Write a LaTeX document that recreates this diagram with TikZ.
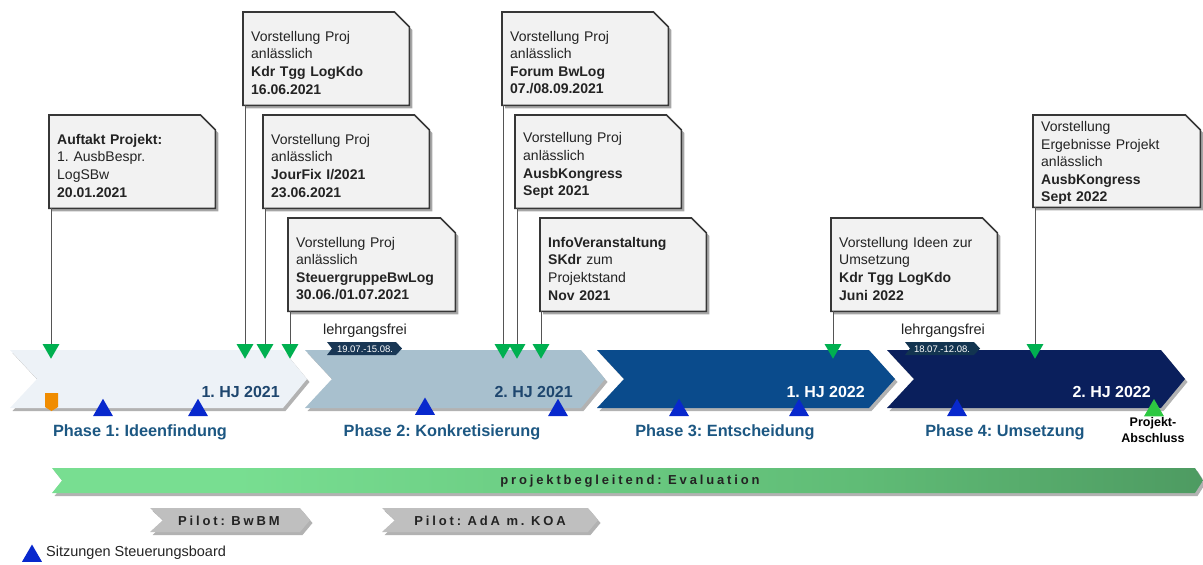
\documentclass[tikz,border=0pt]{standalone}
\usepackage{fontspec}
\setmainfont{Liberation Sans}
\newfontfamily\trackedfont[LetterSpace=22]{Liberation Sans}
\usetikzlibrary{shapes.geometric,shadows,backgrounds,calc}
\frenchspacing

% palette
\definecolor{calloutFill}{RGB}{242,242,242}
\definecolor{calloutLine}{RGB}{55,55,55}
\definecolor{textGrey}{RGB}{35,35,35}
\definecolor{leaderGrey}{RGB}{85,85,85}
\definecolor{msGreen}{RGB}{0,176,80}
\definecolor{endGreen}{RGB}{45,200,65}
\definecolor{boardBlue}{RGB}{8,40,205}
\definecolor{markOrange}{RGB}{240,140,0}
\definecolor{phaseA}{RGB}{237,242,247}
\definecolor{phaseB}{RGB}{168,192,206}
\definecolor{phaseC}{RGB}{10,75,140}
\definecolor{phaseD}{RGB}{10,31,92}
\definecolor{phaseText}{RGB}{28,87,130}
\definecolor{hjText}{RGB}{30,70,110}
\definecolor{tagNavy}{RGB}{25,55,85}
\definecolor{tagNavyB}{RGB}{18,52,80}
\definecolor{pilotGrey}{RGB}{191,191,191}
\definecolor{evalLight}{RGB}{120,222,145}
\definecolor{evalMid}{RGB}{96,188,118}
\definecolor{evalDark}{RGB}{62,126,80}

\pgfdeclarehorizontalshading{evalshade}{100bp}{color(0bp)=(evalLight); color(33bp)=(evalLight); color(60bp)=(evalMid); color(88bp)=(evalDark); color(100bp)=(evalDark)}

% height of the invisible strut that opens each callout text
\newlength\calltop
\setlength\calltop{18pt}

\tikzset{
  softshadow/.style={drop shadow={shadow xshift=2.5pt, shadow yshift=-3pt, opacity=.3, fill=black}},
  callbox/.style={fill=calloutFill, draw=calloutLine, line width=1.6pt, line join=miter,
    drop shadow={shadow xshift=3pt, shadow yshift=-3pt, opacity=.35, fill=black}},
  calltext/.style={anchor=north west, text width=150pt, inner xsep=8pt, inner ysep=0pt,
    minimum height=93pt, align=left, font=\fontsize{14}{17.6}\selectfont, text=textGrey,
    execute at begin node={\rule{0pt}{\calltop}}},
  leader/.style={draw=leaderGrey, line width=0.9pt},
  milestone/.style={regular polygon, regular polygon sides=3, shape border rotate=180,
    minimum size=19.6pt, inner sep=0pt, fill=msGreen},
  board/.style={regular polygon, regular polygon sides=3, minimum size=23pt, inner sep=0pt, fill=boardBlue},
  hjlabel/.style={anchor=east, inner sep=0pt, font=\bfseries\fontsize{16}{19}\selectfont},
  phaselabel/.style={inner sep=0pt, text=phaseText, font=\bfseries\fontsize{16.3}{19}\selectfont},
  freelabel/.style={inner sep=0pt, text=textGrey, font=\fontsize{14.5}{17}\selectfont},
  taglabel/.style={inner sep=0pt, text=white, font=\fontsize{9.5}{11}\selectfont},
  barlabel/.style={inner sep=0pt, text=textGrey, font=\trackedfont\bfseries\fontsize{13}{15}\selectfont},
}

% chevron: style, left x, tip x, top y, bottom y, notch depth, tip depth
\newcommand\chevronshape[7]{%
  \fill[#1] (#2,#4) -- ({#3-#7},#4) -- (#3,{(#4+#5)/2}) -- ({#3-#7},#5) -- (#2,#5)
    -- ({#2+#6},{(#4+#5)/2}) -- cycle;}

% callout outline with folded corner, drawn behind its text node
\newcommand\dogear[1]{%
  \begin{scope}[on background layer]
    \draw[callbox] (#1.north west) -- ([xshift=-15pt]#1.north east)
      -- ([yshift=-15pt]#1.north east) -- (#1.south east) -- (#1.south west) -- cycle;
  \end{scope}}

\begin{document}
\begin{tikzpicture}[x=1pt, y=-1pt]
\useasboundingbox (0,0) rectangle (1203,565);

% ---- phase chevrons
\chevronshape{phaseA,softshadow}{10}{307}{350}{408}{27}{24}
\chevronshape{phaseB,softshadow}{305}{605}{350}{408}{27}{24}
\chevronshape{phaseC,softshadow}{597}{895}{350}{408}{27}{26}
\chevronshape{phaseD,softshadow}{887}{1185}{350}{408}{27}{24}

\node[hjlabel, text=hjText] (hj1) at (280,392) {1. HJ 2021};
\node[hjlabel, text=hjText] (hj2) at (573,392) {2. HJ 2021};
\node[hjlabel, text=white] (hj3) at (865,392) {1. HJ 2022};
\node[hjlabel, text=white] (hj4) at (1151,392) {2. HJ 2022};

\node[phaselabel] (ph1) at (140,432) {Phase 1: Ideenfindung};
\node[phaselabel] (ph2) at (442,432) {Phase 2: Konkretisierung};
\node[phaselabel] (ph3) at (725,432) {Phase 3: Entscheidung};
\node[phaselabel] (ph4) at (1005,432) {Phase 4: Umsetzung};

% ---- course-free periods
\node[freelabel] (lf1) at (365,331) {lehrgangsfrei};
\chevronshape{tagNavy}{327}{402}{342}{355}{5}{6}
\node[taglabel] (tg1) at (365,348.8) {19.07.-15.08.};
\node[freelabel] (lf2) at (943,331) {lehrgangsfrei};
\chevronshape{tagNavyB}{905}{980}{342}{355}{5}{6}
\node[taglabel] (tg2) at (942,348.8) {18.07.-12.08.};

% ---- project start marker
\fill[markOrange] (45,393) -- (58,393) -- (58,407) -- (51.5,411) -- (45,407) -- cycle;

% ---- steering board meetings
\node[board] (b1) at (103,410.3) {};
\node[board] (b2) at (198,410.3) {};
\node[board] (b3) at (425,409) {};
\node[board] (b4) at (558,410.3) {};
\node[board] (b5) at (679,410.3) {};
\node[board] (b6) at (799,410.3) {};
\node[board] (b7) at (957,410.3) {};

% ---- project close
\node[board, fill=endGreen] (fin) at (1154,410.5) {};
\node[inner sep=0pt, align=center, text=black, font=\bfseries\fontsize{12.5}{15.5}\selectfont] (finlbl) at (1153,430) {Projekt-\\Abschluss};

% ---- callouts
\node[calltext] (c1) at (49,115) {\textbf{Auftakt Projekt:}\\1. AusbBespr.\\LogSBw\\\textbf{20.01.2021}}; \dogear{c1}
\node[calltext] (c2) at (243,12) {Vorstellung Proj\\anlässlich\\\textbf{Kdr Tgg LogKdo}\\\textbf{16.06.2021}}; \dogear{c2}
\node[calltext] (c3) at (263,115) {Vorstellung Proj\\anlässlich\\\textbf{JourFix I/2021}\\\textbf{23.06.2021}}; \dogear{c3}
\node[calltext, text width=151pt] (c4) at (288,218) {Vorstellung Proj\\anlässlich\\\textbf{SteuergruppeBwLog}\\\textbf{30.06./01.07.2021}}; \dogear{c4}
\node[calltext] (c5) at (502,12) {Vorstellung Proj\\anlässlich\\\textbf{Forum BwLog}\\\textbf{07./08.09.2021}}; \dogear{c5}
\node[calltext] (c6) at (515,115) {Vorstellung Proj\\anlässlich\\\textbf{AusbKongress}\\\textbf{Sept 2021}}; \dogear{c6}
\node[calltext] (c7) at (540,218) {\textbf{InfoVeranstaltung}\\\textbf{SKdr} zum\\Projektstand\\\textbf{Nov 2021}}; \dogear{c7}
\node[calltext] (c8) at (831,218) {Vorstellung Ideen zur\\Umsetzung\\\textbf{Kdr Tgg LogKdo}\\\textbf{Juni 2022}}; \dogear{c8}
\setlength\calltop{14pt}
\node[calltext, text width=151pt, minimum height=92pt] (c9) at (1033,115) {Vorstellung\\Ergebnisse Projekt\\anlässlich\\\textbf{AusbKongress}\\\textbf{Sept 2022}}; \dogear{c9}

% ---- milestone markers and their leaders
\foreach \m/\c/\x in {m1/c1/51, m2/c2/245, m3/c3/265, m4/c4/290, m5/c5/503, m6/c6/517, m7/c7/541, m8/c8/833, m9/c9/1035}{
  \node[milestone] (\m) at (\x,348.9) {};
  \draw[leader] (\m.north |- \c.south) -- (\m.north);
}

% ---- accompanying evaluation
\path[shading=evalshade, softshadow] (52,468) -- (1195,468) -- (1203,480.5) -- (1195,493) -- (52,493) -- (62,480.5) -- cycle;
\node[barlabel] (ev) at (630,481) {projektbegleitend: Evaluation};

% ---- pilots
\chevronshape{pilotGrey,softshadow}{150}{310}{508}{532}{13}{10}
\node[barlabel] (p1) at (229,521) {Pilot: BwBM};
\chevronshape{pilotGrey,softshadow}{382}{598}{508}{532}{13}{10}
\node[barlabel] (p2) at (490,521) {Pilot: AdA m. KOA};

% ---- legend
\node[board] (lg) at (32,556) {};
\node[freelabel, anchor=west] (lgt) at (46,553) {Sitzungen Steuerungsboard};
\end{tikzpicture}
\end{document}
